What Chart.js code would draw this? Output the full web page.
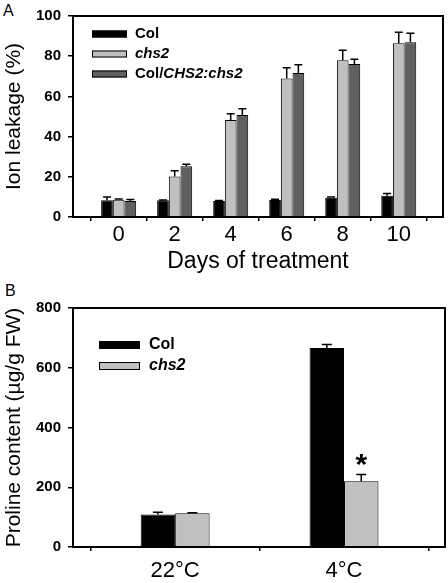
<!DOCTYPE html>
<html>
<head>
<meta charset="utf-8">
<script src="https://cdn.jsdelivr.net/npm/chart.js@4.4.1/dist/chart.umd.min.js"></script>
<style>
  html, body { margin: 0; padding: 0; background: #fff; }
  body { width: 448px; height: 583px; position: relative; overflow: hidden; font-family: "Liberation Sans", Arial, sans-serif; }
  .panel { position: absolute; left: 0; width: 448px; }
  .tag { position: absolute; font-size: 16px; color: #000; line-height: 1; }
</style>
</head>
<body>
<div class="tag" style="left:3px; top:3px;">A</div>
<div class="tag" style="left:5px; top:283px;">B</div>
<div class="panel" style="top:0; height:285px;"><canvas id="chartA"></canvas></div>
<div class="panel" style="top:285px; height:298px;"><canvas id="chartB"></canvas></div>
<script>
// ---- panel A : ion leakage ----
var days = [0, 2, 4, 6, 8, 10];
var colLeak = [8.3, 8.3, 8.0, 8.5, 9.6, 10.6];
var colLeakErr = [1.6, 0.2, 0.2, 0.3, 0.4, 1.1];
var chs2Leak = [8.6, 20.1, 48.3, 68.9, 78.0, 86.4];
var chs2LeakErr = [0.3, 2.9, 3.1, 5.4, 5.0, 5.5];
var compLeak = [7.9, 25.3, 50.7, 71.6, 76.1, 87.0];
var compLeakErr = [0.8, 0.9, 3.2, 4.1, 2.4, 4.4];
var leakTicks = [0, 20, 40, 60, 80, 100];

// ---- panel B : proline ----
var temps = ['22\u00b0C', '4\u00b0C'];
var colPro = [109, 666];
var colProErr = [7, 12];
var chs2Pro = [113, 220];
var chs2ProErr = [2, 23];
var proTicks = [0, 200, 400, 600, 800];

var FONT = '"Liberation Sans", Arial, sans-serif';
Chart.defaults.font.family = FONT;
Chart.defaults.color = '#000';

// legend text pieces: [text, italic]
var legendA = [[['Col', false]], [['chs2', true]], [['Col/', false], ['CHS2:chs2', true]]];
var legendB = [[['Col', false]], [['chs2', true]]];

function pts(xs, ys) {
    return ys.map(function (v, i) { return { x: xs[i], y: v }; });
}

//error bars + frame + legend + significance marks
var extras = {
    id: 'extras',
    afterDatasetsDraw: function (chart, args, opts) {
        var ctx = chart.ctx;
        var ys = chart.scales.y;
        ctx.save();
        ctx.strokeStyle = '#000';
        ctx.lineWidth = 1.5;
        chart.data.datasets.forEach(function (ds, di) {
            var meta = chart.getDatasetMeta(di);
            meta.data.forEach(function (el, i) {
                var v = ds.data[i].y, e = ds.err[i];
                var top = ys.getPixelForValue(v + e);
                ctx.beginPath();
                ctx.moveTo(el.x, el.y);
                ctx.lineTo(el.x, top);
                ctx.moveTo(el.x - opts.cap / 2, top);
                ctx.lineTo(el.x + opts.cap / 2, top);
                ctx.stroke();
            });
        });
        (opts.marks || []).forEach(function (m) {
            var ds = chart.data.datasets[m.ds];
            var el = chart.getDatasetMeta(m.ds).data[m.i];
            var top = ys.getPixelForValue(ds.data[m.i].y + ds.err[m.i]);
            ctx.fillStyle = '#000';
            ctx.font = 'bold 30px ' + FONT;
            ctx.textAlign = 'center';
            ctx.textBaseline = 'alphabetic';
            ctx.fillText('*', el.x, top);
        });
        ctx.restore();
    },
    afterDraw: function (chart, args, opts) {
        var ctx = chart.ctx, a = chart.chartArea;
        ctx.save();
        ctx.strokeStyle = '#000';
        ctx.lineWidth = 2;
        ctx.strokeRect(a.left, a.top, a.right - a.left, a.bottom - a.top);
        // legend
        var lg = opts.legend;
        ctx.font = 'bold ' + lg.size + 'px ' + FONT;
        chart.data.datasets.forEach(function (ds, di) {
            var bx = a.left + lg.x, cy = a.top + lg.y + di * lg.gap;
            ctx.fillStyle = ds.backgroundColor;
            ctx.fillRect(bx, cy - lg.bh / 2, lg.bw, lg.bh);
            ctx.lineWidth = 1;
            ctx.strokeRect(bx + 0.5, cy - lg.bh / 2 + 0.5, lg.bw - 1, lg.bh - 1);
            var tx = bx + lg.bw + lg.tgap;
            ctx.fillStyle = '#000';
            ctx.textBaseline = 'middle';
            ctx.textAlign = 'left';
            lg.parts[di].forEach(function (p) {
                ctx.font = (p[1] ? 'italic ' : '') + 'bold ' + lg.size + 'px ' + FONT;
                ctx.fillText(p[0], tx, cy);
                tx += ctx.measureText(p[0]).width;
            });
        });
        ctx.restore();
    }
};

function yAxis(title, ticks, max, width) {
    return {
        min: 0, max: max,
        afterFit: function (s) { s.width = width; },
        afterBuildTicks: function (s) { s.ticks = ticks.map(function (v) { return { value: v }; }); },
        border: { display: true, color: '#000', width: 2 },
        grid: { drawOnChartArea: false, drawTicks: true, tickLength: 5, color: '#000', lineWidth: 1.5 },
        ticks: { font: { size: 15, weight: 'bold' }, padding: 7, color: '#000' },
        title: { display: true, text: title, font: { size: 21 }, padding: { top: 2, bottom: 2 }, color: '#000' }
    };
}

new Chart(document.getElementById('chartA'), {
    type: 'bar',
    data: {
        datasets: [
            { label: 'Col', data: pts(days, colLeak), err: colLeakErr, backgroundColor: '#000000', borderColor: '#000', borderWidth: 1 },
            { label: 'chs2', data: pts(days, chs2Leak), err: chs2LeakErr, backgroundColor: '#c0c0c0', borderColor: '#000', borderWidth: 1 },
            { label: 'Col/CHS2:chs2', data: pts(days, compLeak), err: compLeakErr, backgroundColor: '#606060', borderColor: '#000', borderWidth: 1 }
        ]
    },
    options: {
        responsive: true,
        maintainAspectRatio: false,
        animation: false,
        categoryPercentage: 0.625,
        barPercentage: 1.0,
        layout: { padding: { top: 7, right: 5, left: 0, bottom: 0 } },
        plugins: {
            legend: { display: false },
            tooltip: { enabled: false },
            extras: { cap: 8, legend: { x: 19, y: 18, gap: 20, bw: 35, bh: 7, tgap: 8, size: 15, parts: legendA } }
        },
        scales: {
            x: {
                type: 'linear', min: -1.63, max: 11.58, offset: false,
                afterFit: function (s) { s.height = 68; },
                afterBuildTicks: function (s) { s.ticks = days.map(function (v) { return { value: v }; }); },
                border: { display: true, color: '#000', width: 2 },
                grid: { drawOnChartArea: false, drawTicks: true, tickLength: 4, color: '#000', lineWidth: 1.5 },
                ticks: { font: { size: 22 }, padding: 1, color: '#000', maxRotation: 0 },
                title: { display: true, text: 'Days of treatment', font: { size: 23 }, padding: { top: 0, bottom: 10 }, color: '#000' }
            },
            y: yAxis('Ion leakage (%)', leakTicks, 100, 73)
        }
    },
    plugins: [extras]
});

new Chart(document.getElementById('chartB'), {
    type: 'bar',
    data: {
        datasets: [
            { label: 'Col', data: pts([0, 1], colPro), err: colProErr, backgroundColor: '#000000', borderColor: '#000', borderWidth: 1 },
            { label: 'chs2', data: pts([0, 1], chs2Pro), err: chs2ProErr, backgroundColor: '#c0c0c0', borderColor: '#000', borderWidth: 1 }
        ]
    },
    options: {
        responsive: true,
        maintainAspectRatio: false,
        animation: false,
        categoryPercentage: 0.408,
        barPercentage: 1.0,
        layout: { padding: { top: 23, right: 3, left: 0, bottom: 0 } },
        plugins: {
            legend: { display: false },
            tooltip: { enabled: false },
            extras: { cap: 10, marks: [{ ds: 1, i: 1 }], legend: { x: 26, y: 37, gap: 21, bw: 41, bh: 8, tgap: 9, size: 16, parts: legendB } }
        },
        scales: {
            x: {
                type: 'linear', min: -0.605, max: 1.598, offset: false,
                afterFit: function (s) { s.height = 36; },
                afterBuildTicks: function (s) { s.ticks = temps.map(function (t, i) { return { value: i }; }); },
                border: { display: true, color: '#000', width: 2 },
                grid: { drawOnChartArea: false, drawTicks: true, tickLength: 4, color: '#000', lineWidth: 1.5 },
                ticks: { font: { size: 22 }, padding: 7, color: '#000', maxRotation: 0,
                    callback: function (v) { return temps[v]; } }
            },
            y: yAxis('Proline content (\u00b5g/g FW)', proTicks, 800, 73)
        }
    },
    plugins: [extras]
});
</script>
</body>
</html>
